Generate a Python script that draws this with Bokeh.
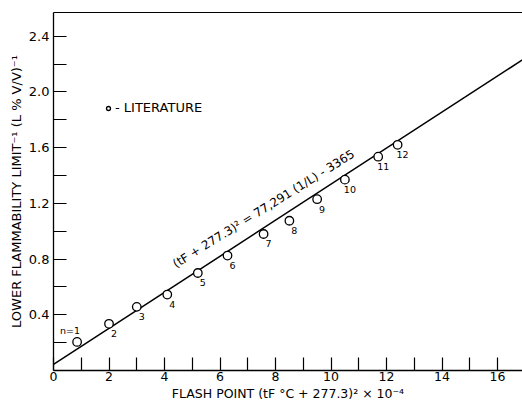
from bokeh.plotting import figure
from bokeh.models import (Range1d, FixedTicker, LinearAxis, Legend, LegendItem,
                          ColumnDataSource, Label, NumeralTickFormatter, Title)
from bokeh.core.properties import value
from bokeh.embed import file_html
from bokeh.resources import INLINE

# ---- data ----
flash_point = [0.85, 2.0, 3.0, 4.1, 5.2, 6.27, 7.57, 8.5, 9.5, 10.5, 11.7, 12.4]
lfl_inverse = [0.205, 0.335, 0.457, 0.545, 0.70, 0.825, 0.98, 1.075, 1.23, 1.37, 1.535, 1.62]
point_labels = ["n=1", "2", "3", "4", "5", "6", "7", "8", "9", "10", "11", "12"]

# fit: (tF+277.3)^2 = 77,291 (1/L) - 3365
eq_coef = 77291.0
eq_const = 3365.0
line_x = [0.0, 17.0]
line_y = [(x * 1e4 + eq_const) / eq_coef for x in line_x]

x_ticks = [0, 2, 4, 6, 8, 10, 12, 14, 16]
x_minor = [1, 3, 5, 7, 9, 11, 13, 15]
y_ticks = [0.4, 0.8, 1.2, 1.6, 2.0, 2.4]
y_minor = [0.2, 0.6, 1.0, 1.4, 1.8, 2.2]

x_title = "FLASH POINT (tF °C + 277.3)² × 10⁻⁴"
y_title = "LOWER FLAMMABILITY LIMIT⁻¹ (L % V/V)⁻¹"
equation = "(tF + 277.3)² = 77,291 (1/L) - 3365"

FONT = "DejaVu Sans"

p = figure(width=522, height=400, output_backend="svg", toolbar_location=None,
           x_range=Range1d(0, 16.9), y_range=Range1d(0, 2.57),
           min_border_left=53, min_border_right=0, min_border_top=12,
           min_border_bottom=30)
p.grid.visible = False
p.outline_line_color = None
p.background_fill_color = "white"

# axes
xa = p.xaxis[0]
xa.ticker = FixedTicker(ticks=x_ticks, minor_ticks=x_minor)
ya = p.yaxis[0]
ya.ticker = FixedTicker(ticks=y_ticks, minor_ticks=y_minor)
ya.formatter = NumeralTickFormatter(format="0.0")
ya.axis_label = y_title
for ax in (xa, ya):
    ax.axis_line_color = "black"
    ax.axis_line_width = 1.3
    ax.major_tick_in = 13
    ax.major_tick_out = 0
    ax.minor_tick_in = 13
    ax.minor_tick_out = 0
    ax.major_tick_line_color = "black"
    ax.minor_tick_line_color = "black"
    ax.major_tick_line_width = 1.2
    ax.minor_tick_line_width = 1.2
    ax.major_label_text_font = FONT
    ax.major_label_text_color = "black"
    ax.axis_label_text_font = FONT
    ax.axis_label_text_font_style = "normal"
    ax.axis_label_text_color = "black"
xa.major_label_text_font_size = "12.5px"
xa.major_label_standoff = 1
ya.major_label_text_font_size = "13px"
ya.axis_label_text_font_size = "13px"
ya.major_label_standoff = 4
ya.axis_label_standoff = 2

# x-axis title as a below title (compact)
p.add_layout(Title(text=x_title, align="center", standoff=0,
                   text_font=FONT, text_font_size="12.5px",
                   text_font_style="normal", text_color="black"), "below")

# top frame line
top = LinearAxis(ticker=FixedTicker(ticks=[]), axis_line_color="black",
                 axis_line_width=1, major_tick_in=0, major_tick_out=0,
                 minor_tick_in=0, minor_tick_out=0)
p.add_layout(top, "above")

# fit line
p.line(line_x, line_y, line_color="black", line_width=1.5)

# data points
src = ColumnDataSource(dict(x=flash_point, y=lfl_inverse, lab=point_labels))
pts = p.scatter("x", "y", source=src, marker="circle", size=8.5,
                fill_color="white", line_color="black", line_width=1.3)

# point numbers
src_num = ColumnDataSource(dict(x=flash_point[1:], y=lfl_inverse[1:], lab=point_labels[1:]))
p.text("x", "y", text="lab", source=src_num, x_offset=5, y_offset=10,
       text_font=value(FONT), text_font_size="9.5px", text_align="center",
       text_baseline="middle", text_color="black")
src_n1 = ColumnDataSource(dict(x=flash_point[:1], y=lfl_inverse[:1], lab=point_labels[:1]))
p.text("x", "y", text="lab", source=src_n1, x_offset=-7, y_offset=-11,
       text_font=value(FONT), text_font_size="9.5px", text_align="center",
       text_baseline="middle", text_color="black")

# equation along the line
p.add_layout(Label(x=7.57, y=1.16, text=equation,
                   angle=32, angle_units="deg", text_align="center",
                   text_baseline="middle", text_font=FONT,
                   text_font_size="12px", text_color="black"))

# legend
leg = Legend(items=[LegendItem(label="- LITERATURE", renderers=[pts])],
             location=(50, 255), border_line_color=None,
             background_fill_alpha=0, padding=0, margin=0, spacing=0,
             glyph_width=10, glyph_height=12, label_standoff=2,
             label_text_font=FONT, label_text_font_size="13px",
             label_text_color="black")
p.add_layout(leg, "center")

open("out.html", "w").write(file_html(p, INLINE))
